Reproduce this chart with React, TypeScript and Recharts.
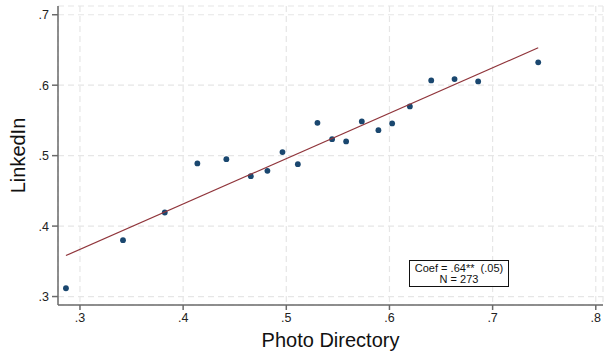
import React from "react";
import { ScatterChart, Scatter, XAxis, YAxis, CartesianGrid } from "recharts";

const photoDirectory = [0.2864, 0.3417, 0.3822, 0.4138, 0.4419, 0.4656, 0.4817, 0.4963, 0.5112, 0.5302, 0.5444, 0.558, 0.5732, 0.5893, 0.6026, 0.6198, 0.6405, 0.6631, 0.686, 0.7442];
const linkedIn = [0.3118, 0.38, 0.4193, 0.4889, 0.495, 0.4709, 0.4784, 0.505, 0.4879, 0.5466, 0.5234, 0.5202, 0.5486, 0.5362, 0.5457, 0.5699, 0.6068, 0.6087, 0.6054, 0.6324];
const fitX = [0.2864, 0.7442];
const fitY = [0.3582, 0.6531];
const xTicks = [0.3, 0.4, 0.5, 0.6, 0.7, 0.8];
const yTicks = [0.3, 0.4, 0.5, 0.6, 0.7];
const xDomain = [0.2787, 0.807];
const yDomain = [0.288, 0.7124];
const annotationLines = ["Coef = .64**  (.05)", "N = 273"];

const points = photoDirectory.map((x, i) => ({ x, y: linkedIn[i] }));
const fitLine = fitX.map((x, i) => ({ x, y: fitY[i] }));

const fmt = (v: number) => {
  const s = v.toFixed(1);
  return s.startsWith("0") ? s.slice(1) : s;
};

const XLabel = (props: any) => {
  const vb = props.viewBox || {};
  const cx = vb.x + vb.width / 2;
  return (
    <text x={cx} y={347} textAnchor="middle" fontSize={20} fill="#111">
      Photo Directory
    </text>
  );
};

const YLabel = (props: any) => {
  const vb = props.viewBox || {};
  const cy = vb.y + vb.height / 2;
  const x = 25;
  return (
    <text x={x} y={cy} transform={`rotate(-90 ${x} ${cy})`} textAnchor="middle" fontSize={20} fill="#111">
      LinkedIn
    </text>
  );
};

const Dot = (props: any) => <circle cx={props.cx} cy={props.cy} r={2.9} fill="#1a476f" />;
const NoDot = () => <g />;

export default function App() {
  return (
    <div style={{ position: "absolute", left: 0, top: 0, width: 605, height: 355, background: "#fff", fontFamily: "'Liberation Sans', Arial, sans-serif" }}>
      <ScatterChart width={605} height={355} margin={{ top: 6, right: 2, bottom: 0, left: 0 }}>
        <CartesianGrid stroke="#e6e6e6" strokeWidth={1.2} strokeDasharray="6 4" />
        <XAxis
          type="number"
          dataKey="x"
          domain={xDomain}
          ticks={xTicks}
          allowDataOverflow
          tickFormatter={fmt}
          height={50}
          stroke="#6a6a6a"
          strokeWidth={1.5}
          tickSize={5}
          tickMargin={3}
          tick={{ fill: "#222", fontSize: 12.5 }}
          label={<XLabel />}
        />
        <YAxis
          type="number"
          dataKey="y"
          domain={yDomain}
          ticks={yTicks}
          allowDataOverflow
          tickFormatter={fmt}
          width={58}
          stroke="#6a6a6a"
          strokeWidth={1.5}
          tickSize={6}
          tickMargin={3}
          tick={{ fill: "#222", fontSize: 12.5 }}
          label={<YLabel />}
        />
        <Scatter data={points} shape={Dot} isAnimationActive={false} />
        <Scatter
          data={fitLine}
          line={{ stroke: "#90353b", strokeWidth: 1.2 }}
          shape={NoDot}
          isAnimationActive={false}
        />
      </ScatterChart>
      <div
        style={{
          position: "absolute",
          left: 409,
          top: 260,
          width: 100,
          height: 27,
          boxSizing: "border-box",
          border: "1px solid #111",
          background: "#fff",
          fontSize: 11,
          lineHeight: "11px",
          textAlign: "center",
          color: "#111",
          paddingTop: 2,
          whiteSpace: "pre",
        }}
      >
        {annotationLines.map((t, i) => (
          <div key={i}>{t}</div>
        ))}
      </div>
    </div>
  );
}
